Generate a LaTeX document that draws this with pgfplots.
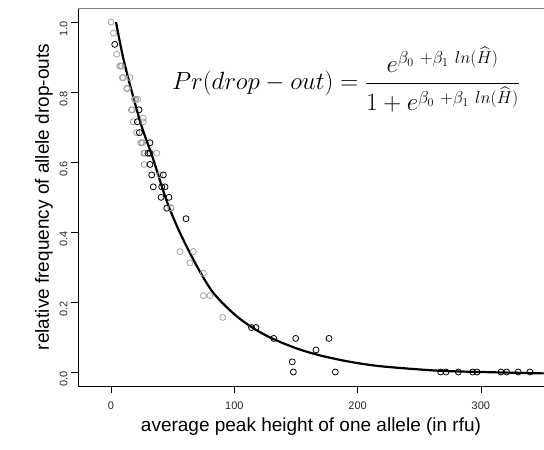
\documentclass[border=0pt]{standalone}
\usepackage{pgfplots}
\pgfplotsset{compat=1.18}
\usepackage{amsmath}
\usepackage{fontspec}
\setmainfont{Liberation Sans}
\definecolor{ptgray}{HTML}{A0A0A0}
\definecolor{topgray}{HTML}{808080}

\begin{document}
\begin{tikzpicture}
\begin{axis}[
  scale only axis,
  width=466pt, height=378pt,
  xmin=-26.8, xmax=351.2,
  ymin=-0.04, ymax=1.04,
  axis x line*=bottom, axis y line*=left,
  axis line style={-, black, line width=0.8pt},
  xtick={0,100,200,300},
  ytick={0,0.2,0.4,0.6,0.8,1.0},
  yticklabel style={rotate=90, /pgf/number format/fixed, /pgf/number format/fixed zerofill, /pgf/number format/precision=1},
  /pgf/number format/assume math mode=true,
  tick align=outside,
  major tick length=7pt,
  tick style={black, line width=0.6pt},
  ticklabel style={font=\fontsize{11}{13}\selectfont, text=black!85},
  xticklabel style={yshift=-5pt},
  yticklabel style={xshift=-7pt},
  xlabel={average peak height of one allele (in rfu)},
  ylabel={relative frequency of allele drop-outs},
  label style={font=\fontsize{19}{22}\selectfont},
  xlabel style={yshift=-2pt},
  ylabel style={yshift=0pt},
  every axis plot/.append style={line join=round},
]
% gray observations
\addplot[only marks, mark=o, mark size=3pt, ptgray, mark options={line width=0.8pt}] coordinates {
  (0,1.0) (2,0.968) (4.6,0.908) (7.9,0.874) (7,0.874) (8.5,0.874)
  (9.2,0.841) (10,0.841) (15.4,0.841) (12.7,0.81) (13.5,0.81)
  (21.6,0.779) (20,0.779) (19,0.779) (17.3,0.749) (16.5,0.749) (26.2,0.725)
  (18,0.715) (26.2,0.715) (20.8,0.684) (25.7,0.655) (24,0.655) (24.8,0.655)
  (27.6,0.625) (26.5,0.625) (37,0.625) (26.8,0.593) (39.7,0.563)
  (48.7,0.468) (48.4,0.47) (56,0.344) (66.8,0.344) (64,0.312)
  (74.9,0.282) (74.9,0.218) (80.3,0.218) (90.6,0.156)
};
% black observations
\addplot[only marks, mark=o, mark size=3pt, black, mark options={line width=0.8pt}] coordinates {
  (3,0.936) (22.7,0.749) (21.4,0.715) (23,0.684) (31.6,0.655) (30,0.625)
  (31.6,0.625) (31.6,0.593) (33,0.563) (42.4,0.563) (34.3,0.529) (41.1,0.529)
  (43.8,0.529) (40.6,0.499) (47,0.499) (45.2,0.468) (60.8,0.438)
  (114,0.127) (117.6,0.127) (132,0.096) (149.8,0.096) (176.8,0.096)
  (166.3,0.063) (147,0.029) (147.9,0) (181.9,0)
  (267.4,0) (271.7,0) (281.7,0) (293.3,0) (296.9,0)
  (316.3,0) (320.9,0) (330.3,0) (339.8,0)
};
% fitted curve
\addplot[black, line width=2.2pt, smooth] coordinates {
  (4,1.0) (10,0.895) (18,0.786) (25,0.70) (34,0.610) (45,0.490) (56,0.397)
  (70,0.300) (83,0.226) (100,0.165) (115,0.126) (130,0.097) (150,0.068)
  (170,0.047) (194,0.029) (220,0.016) (264,0.004) (300,0.0) (351,-0.004)
};
\draw[topgray, line width=0.8pt] (rel axis cs:0,1) -- (rel axis cs:1,1);
\node[font=\fontsize{23}{27}\selectfont, anchor=center] at (axis cs:190.6,0.835)
  {$Pr(drop-out)=\dfrac{e^{\beta_0\ +\beta_1\ ln(\widehat{H})}}{1+e^{\beta_0\ +\beta_1\ ln(\widehat{H})}}$};
\end{axis}
\pgfresetboundingbox
\useasboundingbox (-78pt,-64pt) rectangle (466pt,386pt);
\end{tikzpicture}
\end{document}
